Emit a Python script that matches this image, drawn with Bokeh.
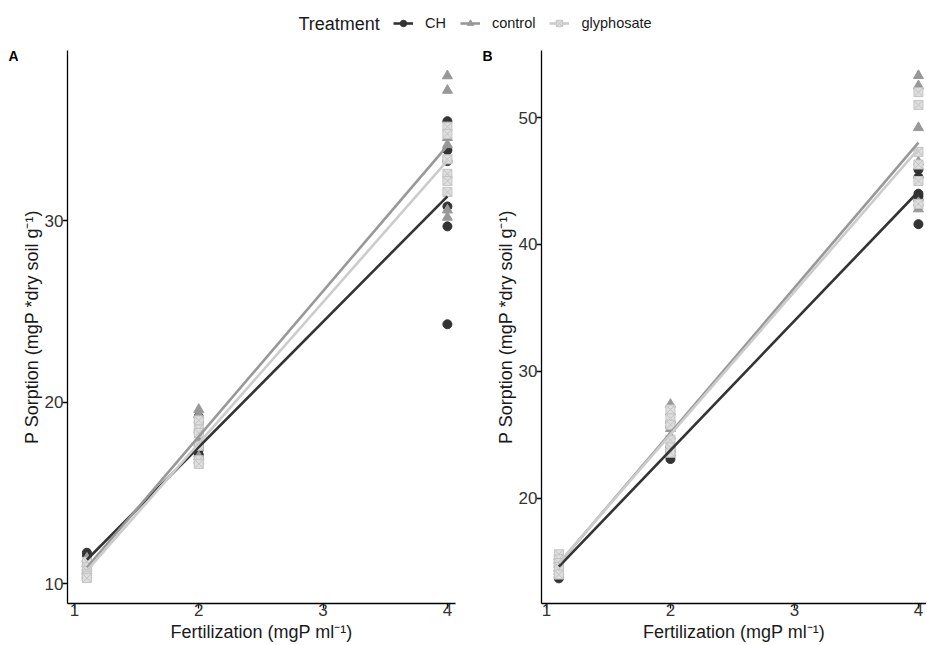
import numpy as np
from bokeh.plotting import figure
from bokeh.models import Legend, LegendItem, Label, Range1d, FixedTicker
from bokeh.layouts import column, row
from bokeh.embed import file_html
from bokeh.resources import INLINE

# ---------------- data ----------------
treatments = ["CH", "control", "glyphosate"]
fert_levels = [1.1, 2.0, 4.0]
n_rep = 6

# Panel A  (values per fertilization level, 6 replicates each)
a_ch_1 = [11.7, 11.5, 11.2, 11.0, 10.6, 10.5]
a_ch_2 = [19.2, 18.9, 17.6, 17.4, 17.1, 17.0]
a_ch_4 = [35.5, 33.9, 33.3, 30.8, 29.7, 24.3]
a_control_1 = [11.4, 11.1, 10.9, 10.7, 10.5, 10.4]
a_control_2 = [19.6, 19.3, 18.5, 17.9, 17.0, 16.8]
a_control_4 = [38.0, 37.2, 34.6, 34.2, 30.6, 30.2]
a_gly_1 = [11.2, 10.9, 10.7, 10.5, 10.4, 10.3]
a_gly_2 = [19.0, 18.5, 18.3, 17.6, 16.8, 16.6]
a_gly_4 = [35.2, 34.8, 33.4, 32.6, 32.2, 31.6]

# Panel B
b_ch_1 = [15.0, 14.7, 14.3, 14.1, 13.8, 13.7]
b_ch_2 = [26.0, 25.6, 24.0, 23.7, 23.4, 23.1]
b_ch_4 = [45.9, 45.3, 44.0, 43.8, 43.5, 41.6]
b_control_1 = [15.4, 15.1, 14.8, 14.5, 14.2, 14.0]
b_control_2 = [27.4, 26.8, 25.5, 24.9, 24.3, 23.8]
b_control_4 = [53.3, 52.5, 49.2, 46.5, 43.3, 42.8]
b_gly_1 = [15.6, 15.2, 14.9, 14.6, 14.4, 14.0]
b_gly_2 = [27.0, 26.3, 25.8, 24.6, 24.0, 23.6]
b_gly_4 = [52.0, 51.0, 47.3, 46.3, 45.0, 43.2]

a_x_ticks = [1, 2, 3, 4]
a_y_ticks = [10, 20, 30]
b_x_ticks = [1, 2, 3, 4]
b_y_ticks = [20, 30, 40, 50]

x_title = "Fertilization (mgP ml\u207b\u00b9)"
y_title = "P Sorption (mgP *dry soil g\u207b\u00b9)"
legend_title = "Treatment"

panel_a = {
    "CH": a_ch_1 + a_ch_2 + a_ch_4,
    "control": a_control_1 + a_control_2 + a_control_4,
    "glyphosate": a_gly_1 + a_gly_2 + a_gly_4,
}
panel_b = {
    "CH": b_ch_1 + b_ch_2 + b_ch_4,
    "control": b_control_1 + b_control_2 + b_control_4,
    "glyphosate": b_gly_1 + b_gly_2 + b_gly_4,
}

# ---------------- styles ----------------
FONT = "Liberation Sans"
styles = {
    "CH": dict(color="#333333", marker="circle", size=9, fill="#333333", line="#333333"),
    "control": dict(color="#989898", marker="triangle", size=10, fill="#989898", line="#989898"),
    "glyphosate": dict(color="#cccccc", marker="square_x", size=9, fill="#dedede", line="#c4c4c4"),
}

x_all = np.repeat(fert_levels, n_rep)
PANEL_H = 608


def make_panel(data, width, border_left, border_right, xr, yr, xt, yt, ytitle_standoff):
    p = figure(width=width, height=PANEL_H,
               x_range=Range1d(*xr), y_range=Range1d(*yr),
               output_backend="svg", toolbar_location=None,
               min_border_left=border_left, min_border_right=border_right,
               min_border_top=14, min_border_bottom=20)
    p.xgrid.visible = False
    p.ygrid.visible = False
    p.outline_line_color = None
    p.xaxis.ticker = FixedTicker(ticks=xt)
    p.yaxis.ticker = FixedTicker(ticks=yt)
    p.xaxis.axis_label = x_title
    p.yaxis.axis_label = y_title
    for ax in (p.xaxis, p.yaxis):
        ax.axis_line_color = "black"
        ax.axis_line_width = 1.3
        ax.major_tick_line_color = "black"
        ax.major_tick_line_width = 1.3
        ax.major_tick_out = 5
        ax.major_tick_in = 0
        ax.minor_tick_line_color = None
        ax.major_label_text_font = FONT
        ax.major_label_text_font_size = "17px"
        ax.major_label_text_color = "#333333"
        ax.axis_label_text_font = FONT
        ax.axis_label_text_font_size = "18px"
        ax.axis_label_text_font_style = "normal"
        ax.axis_label_text_color = "#1a1a1a"
    p.xaxis.major_label_standoff = -5
    p.xaxis.axis_label_standoff = 3
    p.yaxis.major_label_standoff = -1
    p.yaxis.axis_label_standoff = ytitle_standoff

    # points
    for t in treatments:
        s = styles[t]
        p.scatter(x_all, data[t], marker=s["marker"], size=s["size"],
                  fill_color=s["fill"], line_color=s["line"], line_width=1)
    # linear fits
    for t in treatments:
        s = styles[t]
        slope, intercept = np.polyfit(x_all, np.array(data[t]), 1)
        xl = np.array([min(fert_levels), max(fert_levels)])
        p.line(xl, slope * xl + intercept, line_color=s["color"], line_width=2.6)
    return p


def make_tag(text, width, dx):
    f = figure(width=width, height=PANEL_H, x_range=Range1d(0, 1), y_range=Range1d(0, 1),
               output_backend="svg", toolbar_location=None, min_border=0,
               x_axis_type=None, y_axis_type=None)
    f.outline_line_color = None
    f.add_layout(Label(x=dx, y=0.99, x_units="screen", y_units="data",
                       text=text, text_font=FONT, text_font_style="bold",
                       text_font_size="14px", text_baseline="middle",
                       text_color="black"))
    return f


tagA = make_tag("A", 18, 8)
pA = make_panel(panel_a, 452, 48, 15, (0.944, 4.065), (8.9, 39.4), a_x_ticks, a_y_ticks, 0)
tagB = make_tag("B", 22, 12)
pB = make_panel(panel_b, 434, 43, 0, (0.96, 4.065), (11.72, 55.28), b_x_ticks, b_y_ticks, 0)

# ---------------- legend strip ----------------
STRIP_H = 36
leg = figure(width=926, height=STRIP_H, x_range=Range1d(10, 11), y_range=Range1d(0, 1),
             output_backend="svg", toolbar_location=None, min_border=0,
             x_axis_type=None, y_axis_type=None)
leg.outline_line_color = None
items = []
for t in treatments:
    s = styles[t]
    # legend key renderers reuse panel A data; they sit outside this strip's visible range
    rl = leg.line(x_all, panel_a[t], line_color=s["color"], line_width=2.6)
    rs = leg.scatter(x_all, panel_a[t], marker=s["marker"], size=s["size"] - 1,
                     fill_color=s["fill"], line_color=s["line"])
    items.append(LegendItem(label=t, renderers=[rl, rs]))
legend = Legend(items=items, orientation="horizontal", location=(393, 5),
                padding=0, margin=0, border_line_color=None,
                background_fill_alpha=0, glyph_width=20, glyph_height=16,
                label_standoff=12, spacing=14, label_text_font=FONT,
                label_text_font_size="14.5px", label_text_color="#1a1a1a")
leg.add_layout(legend)
leg.add_layout(Label(x=298, y=STRIP_H - 23, x_units="screen", y_units="screen",
                     text=legend_title, text_font=FONT, text_font_size="18px",
                     text_baseline="middle", text_color="#1a1a1a"))

layout = column(leg, row(tagA, pA, tagB, pB))
open("out.html", "w").write(file_html(layout, INLINE))
